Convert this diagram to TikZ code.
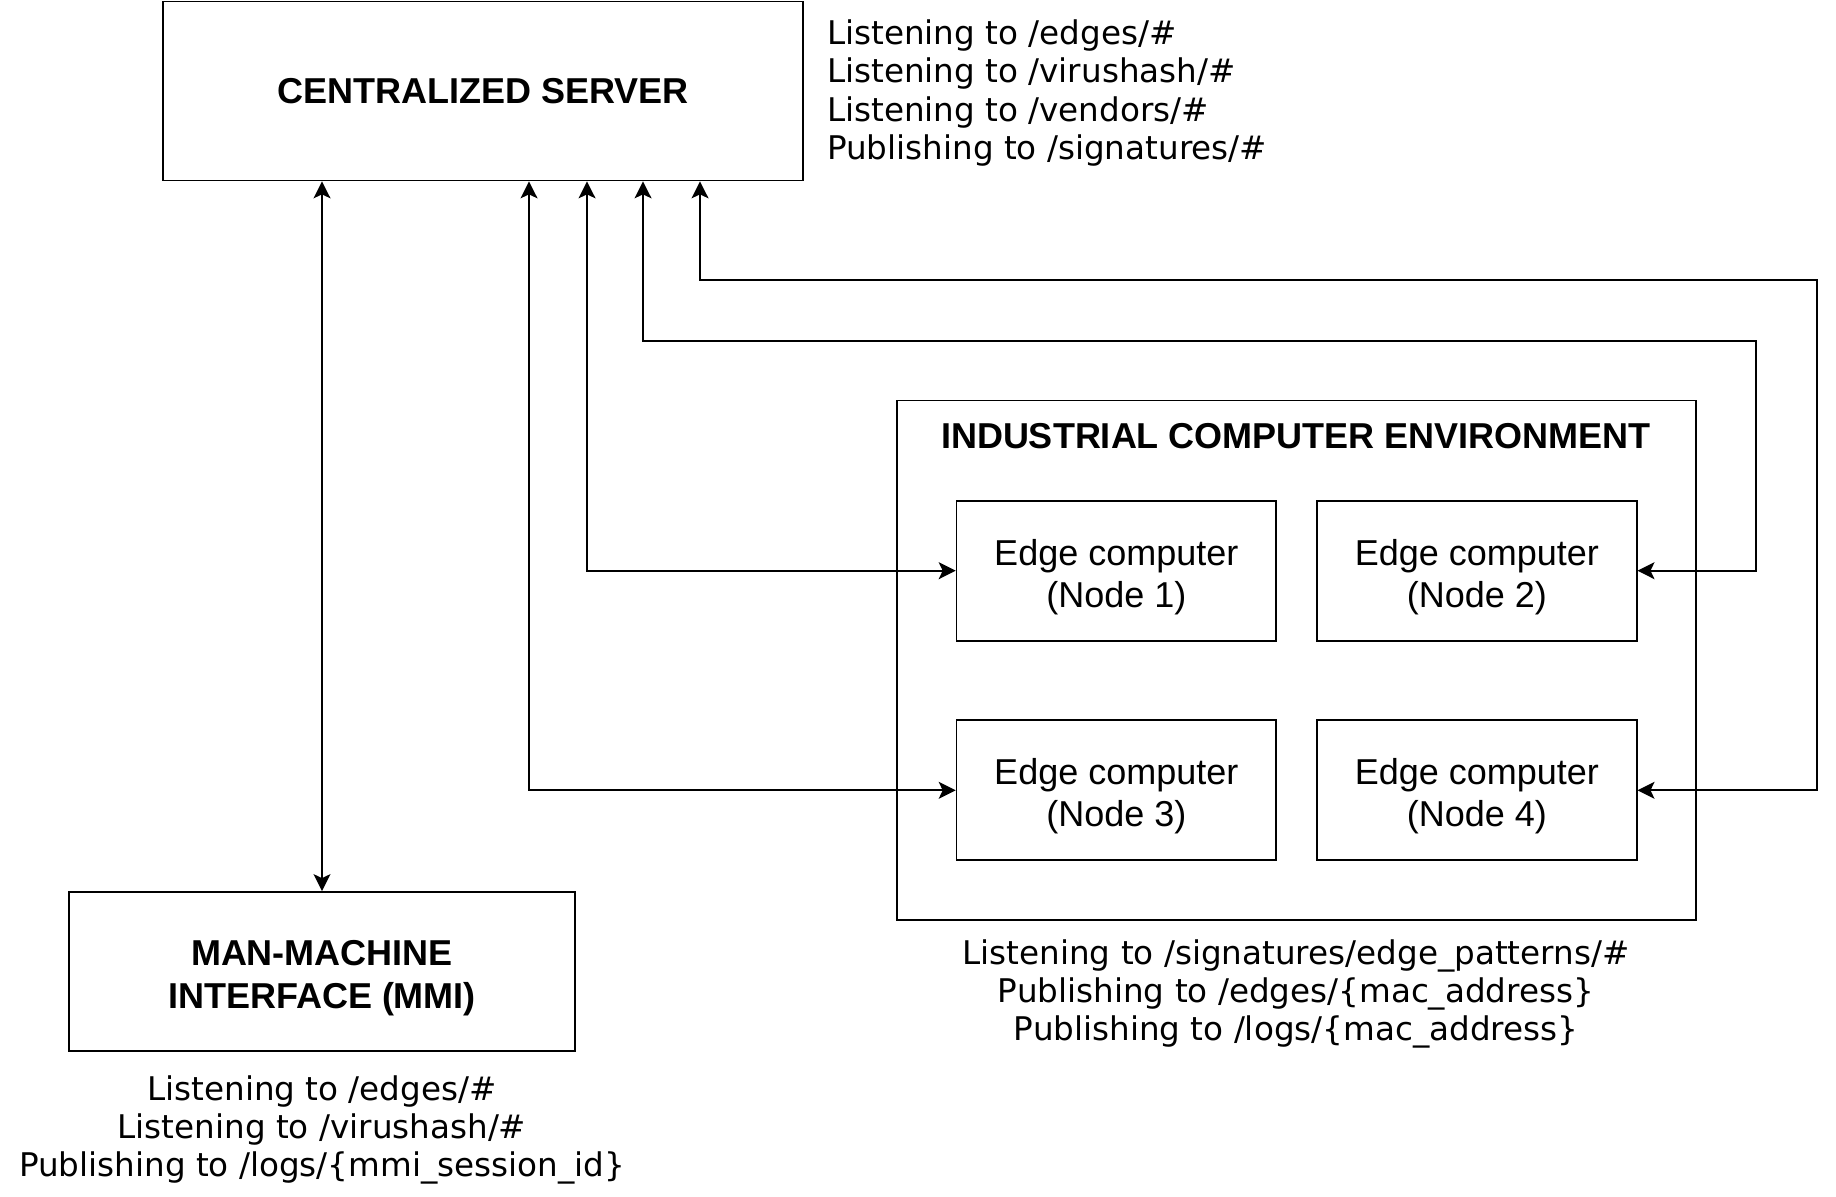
\documentclass[tikz,border=0pt]{standalone}
\usepackage{fontspec}
\setmainfont{Liberation Sans}
\newfontfamily\topicfont{DejaVu Sans}
\usetikzlibrary{arrows.meta}

\newcommand{\firstline}{\rule{0pt}{15.5pt}}

\tikzset{
  box/.style={draw, line width=0.85pt, align=center, inner sep=0pt},
  heading/.style={font=\fontsize{18}{21.7}\selectfont\bfseries, align=center},
  edgetext/.style={font=\fontsize{18}{21}\selectfont, text depth=0pt},
  topics/.style={font=\topicfont\fontsize{16.3}{19.1}\selectfont},
  link/.style={line width=0.85pt,
    {Stealth[length=8.5pt,width=8.5pt,inset=2pt]}-{Stealth[length=8.5pt,width=8.5pt,inset=2pt]}},
}

\begin{document}
\begin{tikzpicture}[x=0.5pt,y=-0.5pt]

\useasboundingbox (0,0) rectangle (1836,1196);

\coordinate (c1) at (529, 0);
\coordinate (c2) at (587, 0);
\coordinate (c3) at (643, 0);
\coordinate (c4) at (700, 0);
\coordinate (r1) at (1756, 340.7);
\coordinate (r2) at (1817, 279.8);

% boxes
\node[box, heading, minimum width=320pt, minimum height=89.5pt] (server) at (483, 91) {CENTRALIZED SERVER};
\node[box, minimum width=399.75pt, minimum height=259.9pt] (env) at (1296.5, 660.3) {};
\node[heading] (envtitle) at (1296, 436.5) {INDUSTRIAL COMPUTER ENVIRONMENT};

\node[box, edgetext, minimum width=159.75pt, minimum height=70pt] (n1) at (1116.3, 570.7) {\firstline Edge computer\\(Node 1)};
\node[box, edgetext, minimum width=159.75pt, minimum height=70pt] (n2) at (1476.9, 570.7) {\firstline Edge computer\\(Node 2)};
\node[box, edgetext, minimum width=159.75pt, minimum height=70pt] (n3) at (1116.3, 790.3) {\firstline Edge computer\\(Node 3)};
\node[box, edgetext, minimum width=159.75pt, minimum height=70pt] (n4) at (1476.9, 790.3) {\firstline Edge computer\\(Node 4)};

\node[box, heading, text depth=0pt, minimum width=252.9pt, minimum height=79.65pt] (mmi) at (322, 971.6)
  {\firstline MAN-MACHINE\\INTERFACE (MMI)};

% topic lists
\node[topics, anchor=west, align=left] (servertopics) at (820, 93)
  {Listening to /edges/\#\\Listening to /virushash/\#\\Listening to /vendors/\#\\Publishing to /signatures/\#};
\node[topics, align=center] (envtopics) at (1296, 994)
  {Listening to /signatures/edge\_patterns/\#\\Publishing to /edges/\{mac\_address\}\\Publishing to /logs/\{mac\_address\}};
\node[topics, align=center] (mmitopics) at (322, 1130)
  {Listening to /edges/\#\\Listening to /virushash/\#\\Publishing to /logs/\{mmi\_session\_id\}};

% links
\draw[link] (server.south -| mmi.north) -- (mmi.north);
\draw[link] (server.south -| c1) |- (n3.west);
\draw[link] (server.south -| c2) |- (n1.west);
\draw[link] (server.south -| c3) |- (r1) |- (n2.east);
\draw[link] (server.south -| c4) |- (r2) |- (n4.east);

\end{tikzpicture}
\end{document}
